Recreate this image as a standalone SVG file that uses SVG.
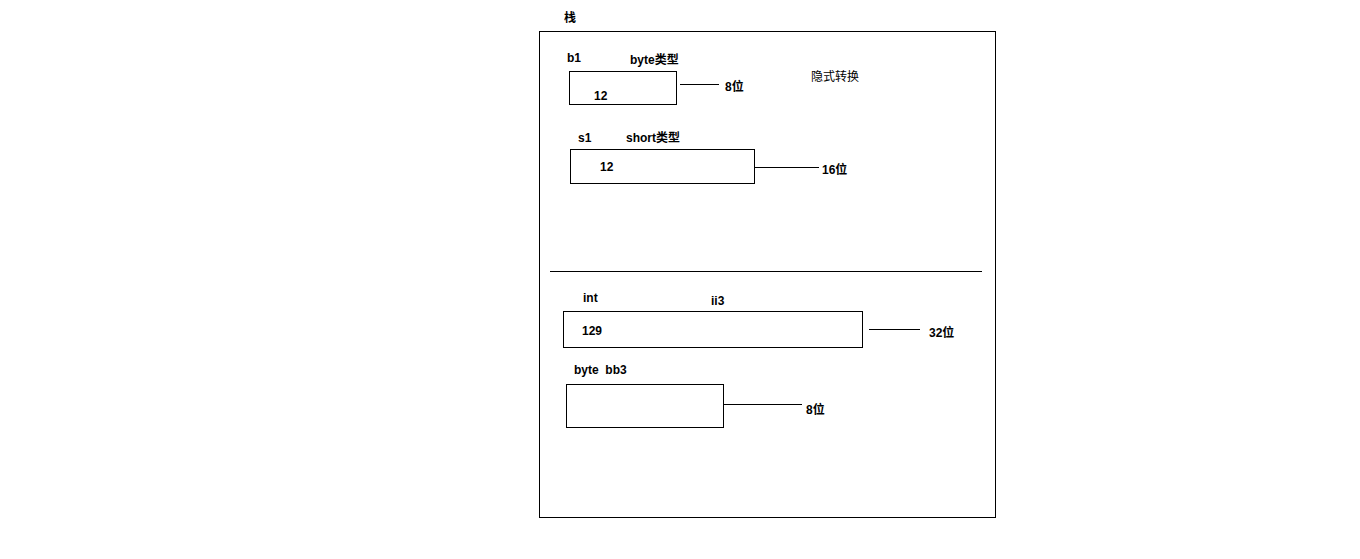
<svg xmlns="http://www.w3.org/2000/svg" width="1360" height="559" viewBox="0 0 1360 559">
<style>
.t{font-family:"Liberation Sans","Noto Sans CJK SC",sans-serif;font-size:12px;font-weight:bold;fill:#000}
.n{font-family:"Liberation Sans","Noto Sans CJK SC",sans-serif;font-size:12px;fill:#000}
.b{fill:#fff;stroke:#000;stroke-width:1}
.l{stroke:#000;stroke-width:1;fill:none}
</style>
<rect width="1360" height="559" fill="#fff"/>
<g id="stack">
<text class="t" x="564" y="22">栈</text>
<rect class="b" x="539.5" y="31.5" width="456" height="486"/>
<text class="n" x="811" y="81">隐式转换</text>
<line class="l" x1="550" y1="271.5" x2="982" y2="271.5"/>
</g>
<g id="b1">
<text class="t" x="567" y="62">b1</text>
<text class="t" x="630" y="64">byte类型</text>
<rect class="b" x="569.5" y="71.5" width="107" height="33"/>
<text class="t" x="594" y="100">12</text>
<text class="t" x="725" y="91">8位</text>
</g>
<g id="s1">
<text class="t" x="578" y="142">s1</text>
<text class="t" x="626" y="142">short类型</text>
<rect class="b" x="570.5" y="149.5" width="184" height="34"/>
<text class="t" x="600" y="171">12</text>
<text class="t" x="822" y="174">16位</text>
</g>
<g id="ii3">
<text class="t" x="583" y="302">int</text>
<text class="t" x="711" y="305">ii3</text>
<rect class="b" x="563.5" y="311.5" width="299" height="36"/>
<text class="t" x="582" y="335">129</text>
<text class="t" x="929" y="337">32位</text>
</g>
<g id="bb3">
<text class="t" x="574" y="374" xml:space="preserve">byte  bb3</text>
<rect class="b" x="566.5" y="384.5" width="157" height="43"/>
<text class="t" x="806" y="414">8位</text>
</g>
<g id="connectors">
<line class="l" x1="680" y1="84.5" x2="719" y2="84.5"/>
<line class="l" x1="754" y1="167.5" x2="819" y2="167.5"/>
<line class="l" x1="869" y1="329.5" x2="895" y2="329.5"/>
<line class="l" x1="895" y1="329.5" x2="920" y2="329.5"/>
<line class="l" x1="724" y1="404.5" x2="802" y2="404.5"/>
</g>
</svg>
